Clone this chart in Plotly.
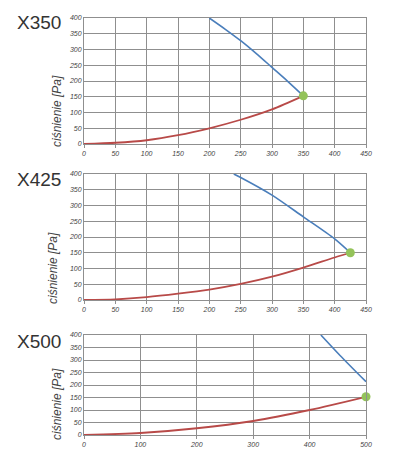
import plotly.graph_objects as go
from plotly.subplots import make_subplots

# --- data ---
titles = ["X350", "X425", "X500"]

x350_blue_x = [200, 225, 250, 275, 300, 325, 350]
x350_blue_y = [400, 365, 328, 287, 243, 199, 153]
x350_red_x = [0, 50, 100, 150, 200, 250, 300, 350]
x350_red_y = [0, 4, 12, 28, 50, 77, 110, 153]
x350_point = (350, 153)

x425_blue_x = [239, 250, 300, 350, 400, 425]
x425_blue_y = [400, 389, 333, 264, 194, 150]
x425_red_x = [0, 50, 100, 150, 200, 250, 300, 350, 400, 425]
x425_red_y = [0, 2, 9, 20, 33, 51, 74, 103, 135, 150]
x425_point = (425, 150)

x500_blue_x = [420, 454, 500]
x500_blue_y = [400, 318, 213]
x500_red_x = [0, 100, 200, 300, 400, 500]
x500_red_y = [0, 8, 27, 56, 100, 153]
x500_point = (500, 153)

x_ranges = [[0, 450], [0, 450], [0, 500]]
x_dticks = [50, 50, 100]
y_range = [0, 400]
y_dtick = 50
ytitle = "ciśnienie [Pa]"

BLUE = "#4a7ebb"
RED = "#b84a48"
GREEN = "#94c35a"
GRID = "#8f8f8f"

fig = make_subplots(rows=3, cols=1)

series = [
    (x350_blue_x, x350_blue_y, x350_red_x, x350_red_y, x350_point),
    (x425_blue_x, x425_blue_y, x425_red_x, x425_red_y, x425_point),
    (x500_blue_x, x500_blue_y, x500_red_x, x500_red_y, x500_point),
]
for i, (bx, by, rx, ry, pt) in enumerate(series, start=1):
    fig.add_trace(go.Scatter(x=bx, y=by, mode="lines",
                             line=dict(color=BLUE, width=1.6, shape="spline", smoothing=0.8),
                             showlegend=False), row=i, col=1)
    fig.add_trace(go.Scatter(x=rx, y=ry, mode="lines",
                             line=dict(color=RED, width=1.8, shape="spline", smoothing=0.8),
                             showlegend=False), row=i, col=1)
    fig.add_trace(go.Scatter(x=[pt[0]], y=[pt[1]], mode="markers",
                             marker=dict(color=GREEN, size=9), showlegend=False,
                             cliponaxis=False), row=i, col=1)

domains = [[0.6978, 1.0], [0.3237, 0.6259], [0.0, 0.2398]]
tickfont = dict(family="Liberation Sans", size=7, color="#444", style="italic")
for i in range(3):
    xa = "xaxis" if i == 0 else f"xaxis{i+1}"
    ya = "yaxis" if i == 0 else f"yaxis{i+1}"
    fig.layout[xa].update(range=x_ranges[i], dtick=x_dticks[i], tick0=0, showgrid=True,
                          gridcolor=GRID, gridwidth=1, zeroline=False, showline=True,
                          linecolor=GRID, linewidth=1, mirror=True, ticks="outside",
                          ticklen=3, tickcolor=GRID, tickfont=tickfont, domain=[0, 1],
                          automargin=False)
    fig.layout[ya].update(range=y_range, dtick=y_dtick, tick0=0, showgrid=True,
                          gridcolor=GRID, gridwidth=1, zeroline=False, showline=True,
                          linecolor=GRID, linewidth=1, mirror=True, ticks="",
                          tickfont=tickfont, domain=domains[i], automargin=False)

annotations = []
title_y = [22, 179, 341]
for t, ty in zip(titles, title_y):
    annotations.append(dict(text=t, xref="paper", yref="paper", x=-0.158, y=(435 - ty) / 417,
                            xanchor="center", yanchor="middle", showarrow=False,
                            font=dict(family="Liberation Sans", size=19, color="#333")))
ytitle_pos = [(57, 111), (53, 268), (57, 404)]
for px, py in ytitle_pos:
    annotations.append(dict(text=ytitle, xref="paper", yref="paper", x=(px - 84) / 282,
                            y=(435 - py) / 417, xanchor="center", yanchor="middle",
                            showarrow=False, textangle=-90,
                            font=dict(family="Liberation Sans", size=12, color="#444",
                                      style="italic")))
fig.update_layout(annotations=annotations)

# page body has an 8px default margin, so the figure is 8px smaller and offset
fig.update_layout(width=385, height=461, margin=dict(l=76, r=27, t=10, b=34),
                  paper_bgcolor="white", plot_bgcolor="white")

fig.write_html("out.html")
